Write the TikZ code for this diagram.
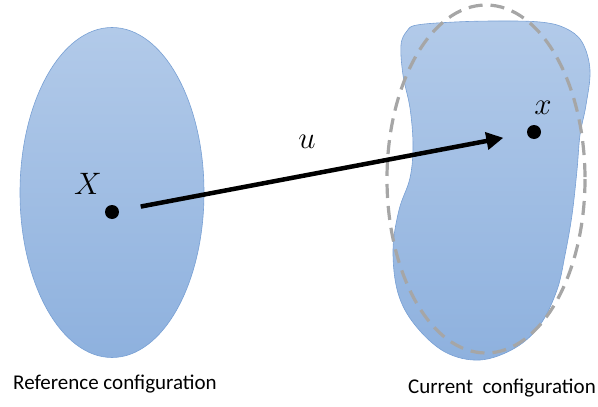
\RequirePackage{fix-cm}
\documentclass[tikz,border=0pt]{standalone}
\usepackage{fontspec}
\newfontfamily\capfont{Carlito}
\usetikzlibrary{arrows.meta,positioning}

\definecolor{bodytop}{RGB}{178,202,233}
\definecolor{bodybot}{RGB}{142,177,222}
\definecolor{bodyline}{RGB}{120,160,212}
\definecolor{ghostgray}{RGB}{166,166,166}

\begin{document}
\begin{tikzpicture}[x=1pt,y=-1pt,
	body/.style={draw=bodyline,line width=.6pt,top color=bodytop,bottom color=bodybot},
	ghost/.style={draw=ghostgray,line width=3.2pt,dash pattern=on 14pt off 8pt},
	point/.style={fill,circle,inner sep=0pt,minimum size=14pt},
	push/.style={line width=4.5pt,-{Triangle[length=17pt,width=17pt]},shorten <=22pt,shorten >=24pt},
	sym/.style={font=\fontsize{31}{34}\selectfont},
	caption/.style={font=\capfont\fontsize{21}{24}\selectfont}]
	\useasboundingbox (0,0) rectangle (598,407);

	% reference body
	\path[body] (112,192.5) ellipse [x radius=92,y radius=165];

	% deformed body and the old outline on top of it
	\path[body] plot[smooth cycle,tension=.6] coordinates {
		(417,25) (455,22) (497,21) (540,22) (565,28) (582,42) (590,70)
		(586,105) (580,135) (577,170) (572,215) (565,255) (557,290)
		(540,325) (515,348) (480,360) (445,352) (415,325) (398,293)
		(393,250) (399,210) (410,178) (413,145) (410,108) (403,75)
		(401,45) (407,31)};
	\draw[ghost] (486,179) ellipse [x radius=99,y radius=174];

	\node (X) [point] at (112,212) {};
	\node (x) [point] at (534,132) {};
	\node (Xname) [sym] at (88,184) {$X$};
	\node (xname) [sym] at (543,108) {$x$};

	\draw[push] (X) -- (x);
	\node (uname) [sym] at (307,142) {$u$};

	\node (refcap) [caption] at (115,384) {Reference configuration};
	\node (curcap) [caption,anchor=east,inner xsep=0pt] at (596,388) {Current\hspace{.45em}configuration};
\end{tikzpicture}
\end{document}
